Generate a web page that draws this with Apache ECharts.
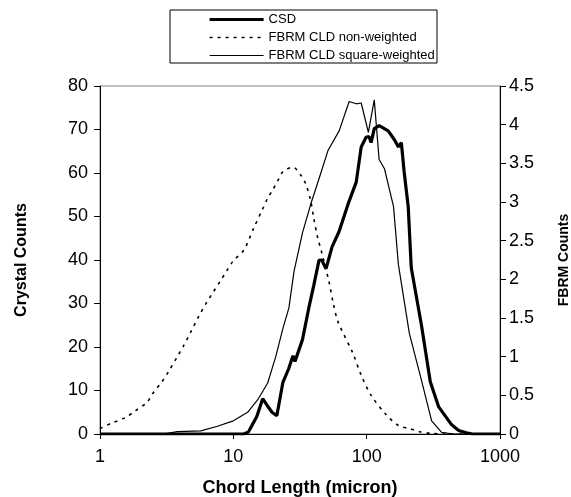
<!DOCTYPE html>
<html>
<head>
<meta charset="utf-8">
<script src="https://cdn.jsdelivr.net/npm/echarts@6/dist/echarts.min.js"></script>
<style>
html,body{margin:0;padding:0;background:#fff;}
#chart{width:571px;height:497px;}
</style>
</head>
<body>
<div id="chart"></div>
<script>
// chord length (micron) / counts pairs
var csd = [[1,0],[12,0],[13,0.5],[15,4],[16.6,8.1],[18,6.5],[19.5,5],[21.2,4.2],[23.5,11.8],[26,15],[28,18],[29,16.7],[33,21.7],[36.9,29.1],[40,34],[43.9,39.9],[46,40],[49.6,38],[55,43],[62,46.5],[72.6,52.9],[83.5,57.9],[91,66],[99,68.2],[104,68.4],[108,67],[114,70.2],[124,70.9],[145,69.7],[161,67.7],[173,66],[182,67],[191,60.3],[205,52.2],[216,38.2],[258,24.9],[300,12],[346,6.3],[434,2.1],[490,0.8],[560,0.3],[620,0],[1000,0]];
var nonWeighted = [[1,0.07],[1.22,0.14],[1.54,0.21],[1.84,0.3],[2.25,0.41],[2.5,0.53],[2.9,0.67],[3.25,0.8],[3.8,1.0],[4.2,1.13],[4.8,1.32],[5.5,1.52],[6.2,1.68],[7.1,1.84],[8,1.98],[9,2.12],[10,2.24],[12,2.38],[14.2,2.66],[16.6,2.91],[18.1,3.05],[19.8,3.16],[21.6,3.28],[23.5,3.39],[28,3.45],[32,3.35],[35,3.23],[38,3.02],[40,2.8],[43,2.53],[45.5,2.38],[52,1.98],[56,1.7],[61,1.45],[79,1.04],[91,0.76],[108,0.5],[140,0.25],[173,0.11],[209,0.07],[249,0.03],[300,0.01],[400,0],[1000,0]];
var squareWeighted = [[1,0],[3,0],[3.8,0.03],[5.7,0.04],[7.6,0.1],[10,0.17],[12.8,0.28],[15.2,0.44],[18.1,0.66],[20.8,1],[23.5,1.36],[26.1,1.63],[28.5,2.1],[33,2.6],[38.2,2.98],[43.9,3.3],[51.4,3.67],[62.2,3.92],[73.9,4.3],[83.5,4.27],[91,4.28],[103,3.9],[114,4.32],[124,3.55],[136,3.43],[159,2.94],[173,2.19],[209,1.3],[258,0.69],[307,0.17],[365,0.02],[450,0],[1000,0]];
var seriesNames = ['CSD', 'FBRM CLD non-weighted', 'FBRM CLD square-weighted'];

var font = 'Liberation Sans, Arial, sans-serif';
var myChart = echarts.init(document.getElementById('chart'));
var option = {
    animation: false,
    graphic: [{
        type: 'rect',
        shape: {x: 170, y: 10, width: 267, height: 53},
        style: {fill: '#fff', stroke: '#000', lineWidth: 1}
    }],
    legend: {
        orient: 'vertical',
        left: 208,
        top: 10,
        itemGap: 5,
        itemWidth: 54,
        itemHeight: 13,
        padding: [3, 0, 0, 0],
        itemStyle: {opacity: 0},
        textStyle: {color: '#000', fontSize: 13, fontFamily: font},
        data: [
            {name: seriesNames[0], lineStyle: {width: 3.2}},
            {name: seriesNames[1], lineStyle: {width: 1.6}},
            {name: seriesNames[2], lineStyle: {width: 1.2}}
        ]
    },
    grid: {
        left: 100,
        right: 71,
        top: 86,
        bottom: 63,
        outerBoundsMode: 'none',
        show: true,
        borderColor: '#808080',
        borderWidth: 1
    },
    xAxis: {
        type: 'log',
        logBase: 10,
        min: 1,
        max: 1000,
        name: 'Chord Length (micron)',
        nameLocation: 'middle',
        nameGap: 45,
        nameTextStyle: {color: '#000', fontSize: 18, fontWeight: 'bold', fontFamily: font},
        axisLine: {lineStyle: {color: '#000'}},
        axisTick: {inside: false, length: 5, lineStyle: {color: '#000'}},
        minorTick: {show: false},
        splitLine: {show: false},
        axisLabel: {color: '#000', fontSize: 18, fontFamily: font, margin: 14,
            formatter: function (v) { return String(Math.round(v)); }}
    },
    yAxis: [{
        type: 'value',
        min: 0,
        max: 80,
        interval: 10,
        name: 'Crystal Counts',
        nameLocation: 'middle',
        nameGap: 70,
        nameTextStyle: {color: '#000', fontSize: 16, fontWeight: 'bold', fontFamily: font},
        axisLine: {show: true, lineStyle: {color: '#000'}},
        axisTick: {show: true, length: 6, lineStyle: {color: '#000'}},
        splitLine: {show: false},
        axisLabel: {color: '#000', fontSize: 18, fontFamily: font, margin: 12}
    }, {
        type: 'value',
        min: 0,
        max: 4.5,
        interval: 0.5,
        name: 'FBRM Counts',
        nameLocation: 'middle',
        nameGap: 57,
        nameRotate: 90,
        nameTextStyle: {color: '#000', fontSize: 14, fontWeight: 'bold', fontFamily: font},
        axisLine: {show: true, lineStyle: {color: '#000'}},
        axisTick: {show: true, length: 6, lineStyle: {color: '#000'}},
        splitLine: {show: false},
        axisLabel: {color: '#000', fontSize: 18, fontFamily: font, margin: 9}
    }],
    series: [{
        name: seriesNames[0],
        type: 'line',
        yAxisIndex: 0,
        data: csd,
        symbol: 'none',
        itemStyle: {color: '#000'},
        lineStyle: {color: '#000', width: 3.2}
    }, {
        name: seriesNames[1],
        type: 'line',
        yAxisIndex: 1,
        data: nonWeighted,
        symbol: 'none',
        smooth: 0.3,
        itemStyle: {color: '#000'},
        lineStyle: {color: '#000', width: 1.6, type: [3, 5]}
    }, {
        name: seriesNames[2],
        type: 'line',
        yAxisIndex: 1,
        data: squareWeighted,
        symbol: 'none',
        itemStyle: {color: '#000'},
        lineStyle: {color: '#000', width: 1.2}
    }]
};
myChart.setOption(option);
</script>
</body>
</html>
